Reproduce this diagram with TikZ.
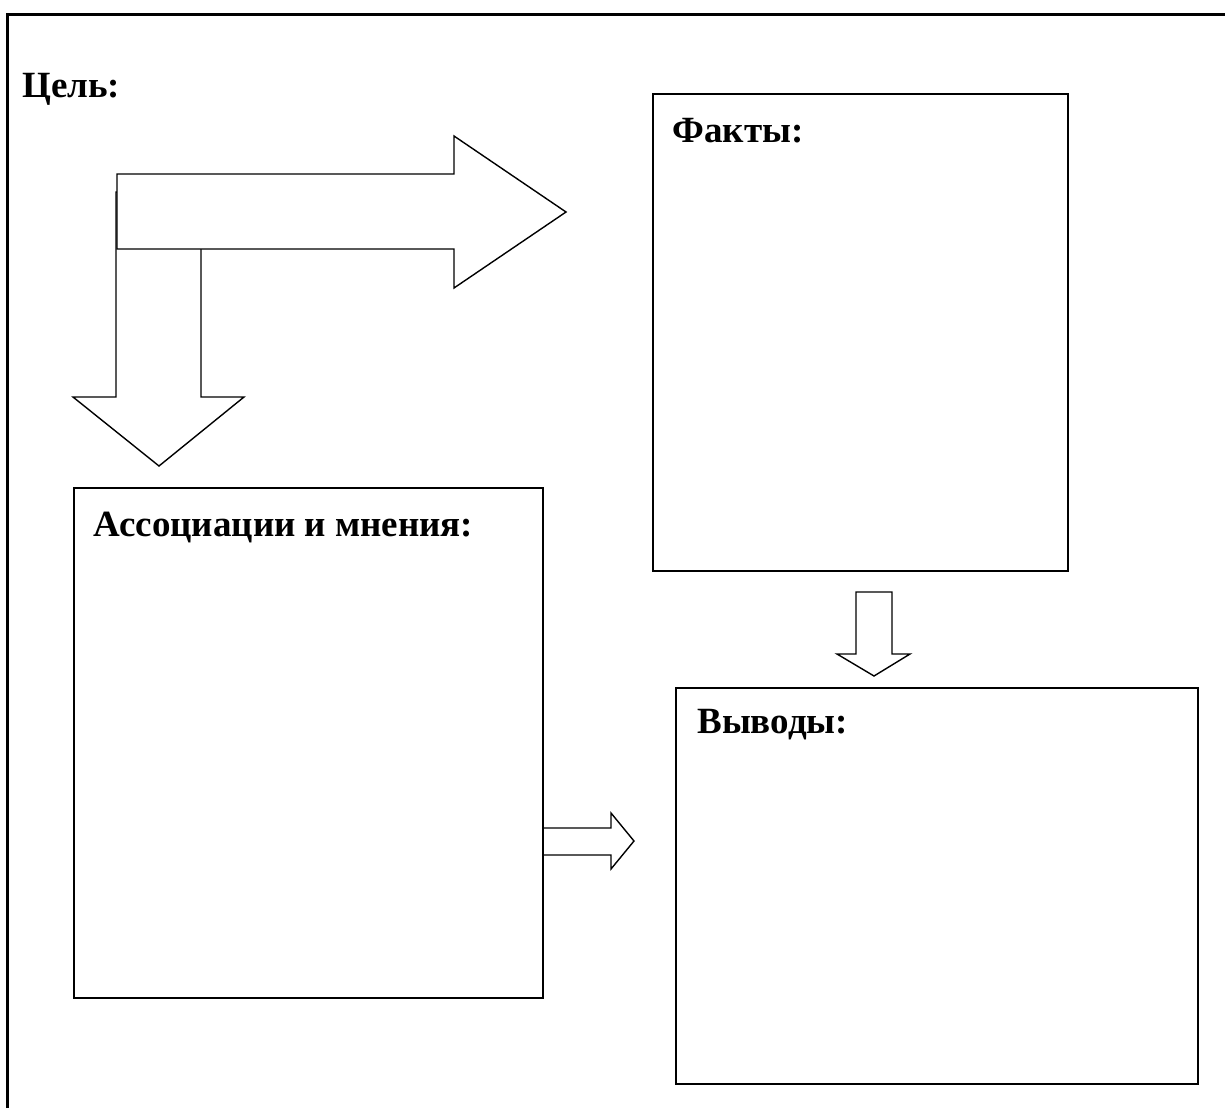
\documentclass[tikz,border=0pt]{standalone}
\usepackage{fontspec}
\setmainfont{Liberation Serif}
\usepackage{tikz}

\begin{document}
\begin{tikzpicture}[x=0.5pt,y=-0.5pt,
        box/.style={draw,line width=1pt,anchor=north west,inner sep=0pt},
        lbl/.style={anchor=base west,inner sep=0pt,font=\fontsize{18.5}{20}\selectfont\bfseries},
        blockarrow/.style={draw,fill=white,line width=0.7pt,line join=miter}]
    \useasboundingbox (0,0) rectangle (1225,1108);

    % outer frame
    \draw[line width=1.5pt] (7,1108) -- (7,14) -- (1225,14);

    \node[lbl] (goal) at (22,97) {Цель:};

    % small arrow into the conclusions, under the box edge
    \draw[blockarrow] (542,828) -- (611,828) -- (611,813) -- (634,841)
        -- (611,869) -- (611,855) -- (542,855);

    % boxes
    \node[box,minimum width=207.5pt,minimum height=238.5pt] (facts) at (652,93) {};
    \node[box,minimum width=234.5pt,minimum height=255pt] (assoc) at (73,487) {};
    \node[box,minimum width=261pt,minimum height=198pt] (concl) at (675,687) {};

    \node[lbl] (factslbl) at (672,142) {Факты:};
    \node[lbl] (assoclbl) at (93,536) {Ассоциации и мнения:};
    \node[lbl] (concllbl) at (697,733) {Выводы:};

    % big arrows from the goal
    \draw[blockarrow] (116,192) -- (201,192) -- (201,397) -- (244,397)
        -- (159,466) -- (73,397) -- (116,397) -- cycle;
    \draw[blockarrow] (117,174) -- (454,174) -- (454,136) -- (566,212)
        -- (454,288) -- (454,249) -- (117,249) -- cycle;

    % facts to conclusions
    \draw[blockarrow] (856,592) -- (892,592) -- (892,654) -- (910,654)
        -- (874,676) -- (837,654) -- (856,654) -- cycle;
\end{tikzpicture}
\end{document}
